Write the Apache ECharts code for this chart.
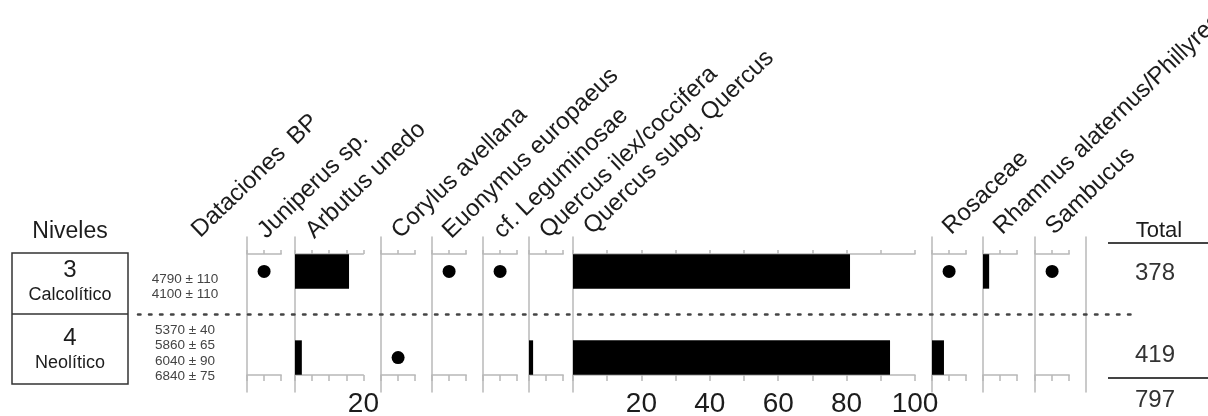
<!DOCTYPE html>
<html><head><meta charset="utf-8">
<script src="https://cdn.jsdelivr.net/npm/echarts@6/dist/echarts.min.js"></script>
<style>html,body{margin:0;padding:0;background:#fff}#c{width:1208px;height:416px}</style>
</head><body><div id="c"></div>
<script>
// ---------------- DATA ----------------
const taxa = ['Juniperus sp.', 'Arbutus unedo', 'Corylus avellana', 'Euonymus europaeus', 'cf. Leguminosae',
  'Quercus ilex/coccifera', 'Quercus subg. Quercus', 'Rosaceae', 'Rhamnus alaternus/Phillyrea', 'Sambucus'];
const levels = ['3', '4'];
const periods = ['Calcolítico', 'Neolítico'];
// percentages (bars)
const pctLevel3 = [0, 15.8, 0, 0, 0, 0, 81, 0, 1.8, 0];
const pctLevel4 = [0, 2, 0, 0, 0, 1.2, 92.7, 3.5, 0, 0];
// presence < 1% (dots)
const presentLevel3 = [1, 0, 0, 1, 1, 0, 0, 1, 0, 1];
const presentLevel4 = [0, 0, 1, 0, 0, 0, 0, 0, 0, 0];
// scale of each panel (%)
const scaleMax = [10, 20, 10, 10, 10, 10, 100, 10, 10, 10];
const tickStep = [5, 5, 5, 5, 5, 5, 10, 5, 5, 5];
const arbutusTickLabels = [20];
const quercusTickLabels = [20, 40, 60, 80, 100];
const datesLevel3 = ['4790 ± 110', '4100 ± 110'];
const datesLevel4 = ['5370 ± 40', '5860 ± 65', '6040 ± 90', '6840 ± 75'];
const totals = [378, 419];
const grandTotal = 797;

// ---------------- LAYOUT ----------------
const panelLeft = [247, 295, 381, 432, 483, 529, 573, 932, 983, 1035];
const pxPerPct = 3.42;
const gridTop = 237, gridH = 155, yMin = -0.4, yMax = 1.4;
const axisGray = '#b8b8b8';
const FONT = '"Liberation Sans", Arial, Helvetica, sans-serif';
const txt = '#1c1c1c';

const grids = [], xAxes = [], yAxes = [], series = [];
function yAxisFor(g, showLine) {
  return { type: 'value', gridIndex: g, min: yMin, max: yMax, inverse: true,
    axisLine: { show: showLine, onZero: false, lineStyle: { color: axisGray, width: 1.5 } },
    axisTick: { show: false }, axisLabel: { show: false }, splitLine: { show: false } };
}
function mkGrid(left, width) {
  return { left: left, top: gridTop, width: width, height: gridH, containLabel: false, outerBoundsMode: 'none' };
}
taxa.forEach((t, i) => {
  grids.push(mkGrid(panelLeft[i], scaleMax[i] * pxPerPct));
  const labelSet = i === 1 ? arbutusTickLabels : (i === 6 ? quercusTickLabels : []);
  ['top', 'bottom'].forEach(pos => {
    xAxes.push({ type: 'value', gridIndex: i, position: pos, offset: -17, min: 0, max: scaleMax[i], interval: tickStep[i],
      axisLine: { show: true, onZero: false, lineStyle: { color: axisGray, width: 1.5 } },
      axisTick: { show: true, length: pos === 'top' ? 4 : 6, lineStyle: { color: axisGray, width: 1.5 } },
      axisLabel: { show: pos === 'bottom' && labelSet.length > 0, margin: 15, fontSize: 28, color: txt, fontFamily: FONT,
        formatter: v => labelSet.indexOf(v) >= 0 ? String(v) : '' },
      splitLine: { show: false } });
  });
  yAxes.push(yAxisFor(i, true));
  const bars = [];
  if (pctLevel3[i] > 0) bars.push([pctLevel3[i], 0]);
  if (pctLevel4[i] > 0) bars.push([pctLevel4[i], 1]);
  series.push({ type: 'custom', xAxisIndex: 2 * i + 1, yAxisIndex: i, data: bars, silent: true,
    renderItem: (params, api) => {
      const v = api.value(0), lv = api.value(1);
      const p0 = api.coord([0, lv - 0.2]);
      const p1 = api.coord([v, lv + 0.2]);
      return { type: 'rect', shape: { x: p0[0], y: p0[1], width: p1[0] - p0[0], height: p1[1] - p0[1] },
        style: { fill: '#000' } };
    } });
  const dots = [];
  if (presentLevel3[i]) dots.push([scaleMax[i] / 2, 0]);
  if (presentLevel4[i]) dots.push([scaleMax[i] / 2, 1]);
  series.push({ type: 'scatter', xAxisIndex: 2 * i + 1, yAxisIndex: i, data: dots, symbolSize: 13,
    itemStyle: { color: '#000', opacity: 1 }, silent: true });
});
// trailing vertical line
const gEnd = taxa.length;
grids.push(mkGrid(1086, 10));
xAxes.push({ type: 'value', gridIndex: gEnd, min: 0, max: 10, show: false });
yAxes.push(yAxisFor(gEnd, true));
// dotted separator grid
const gSep = gEnd + 1;
grids.push(mkGrid(138, 998));
xAxes.push({ type: 'value', gridIndex: gSep, min: 0, max: 10, show: false });
yAxes.push(Object.assign(yAxisFor(gSep, false), { show: false }));
series.push({ type: 'line', xAxisIndex: xAxes.length - 1, yAxisIndex: gSep, data: [], silent: true,
  markLine: { silent: true, symbol: 'none', label: { show: false },
    lineStyle: { color: '#444', width: 2.5, type: [2.5, 8.5], cap: 'round' },
    data: [{ yAxis: 0.5 }] } });

// ---------------- GRAPHIC (text) ----------------
const graphic = [];
function T(x, y, text, size, opts) {
  graphic.push(Object.assign({ type: 'text', x: x, y: y, silent: true,
    style: Object.assign({ text: text, font: size + 'px ' + FONT, fill: txt, align: 'center', verticalAlign: 'middle' }, opts || {}) }));
}
// rotated headers
function R(x, y, text) {
  graphic.push({ type: 'text', x: x, y: y, rotation: 44 * Math.PI / 180, silent: true,
    style: { text: text, font: '24px ' + FONT, fill: txt, align: 'left', verticalAlign: 'bottom' } });
}
R(204, 242, 'Dataciones  BP');
taxa.forEach((t, i) => R(panelLeft[i] + 23, i >= 6 ? 239 : 243, t));
// levels box
graphic.push({ type: 'rect', shape: { x: 12, y: 253, width: 116, height: 131 }, silent: true,
  style: { fill: 'none', stroke: '#333', lineWidth: 1.5 } });
graphic.push({ type: 'line', shape: { x1: 12, y1: 314, x2: 128, y2: 314 }, silent: true,
  style: { stroke: '#333', lineWidth: 1.5 } });
T(70, 232, 'Niveles', 23);
T(70, 270, levels[0], 24); T(70, 295, periods[0], 18);
T(70, 338, levels[1], 24); T(70, 363, periods[1], 18);
datesLevel3.forEach((d, k) => T(185, 279 + k * 15.5, d, 13.5, { fill: '#444' }));
datesLevel4.forEach((d, k) => T(185, 330 + k * 15.5, d, 13.5, { fill: '#444' }));
// totals
T(1159, 231, 'Total', 22);
graphic.push({ type: 'line', shape: { x1: 1108, y1: 243, x2: 1208, y2: 243 }, silent: true, style: { stroke: '#444', lineWidth: 2 } });
T(1155, 273, String(totals[0]), 24, { fill: '#333' });
T(1155, 355, String(totals[1]), 24, { fill: '#333' });
graphic.push({ type: 'line', shape: { x1: 1108, y1: 378, x2: 1208, y2: 378 }, silent: true, style: { stroke: '#444', lineWidth: 2 } });
T(1155, 400, String(grandTotal), 24, { fill: '#333' });

const chart = echarts.init(document.getElementById('c'), null, { renderer: 'canvas' });
chart.setOption({ animation: false, backgroundColor: '#fff', grid: grids, xAxis: xAxes, yAxis: yAxes, series: series, graphic: graphic });
</script></body></html>
